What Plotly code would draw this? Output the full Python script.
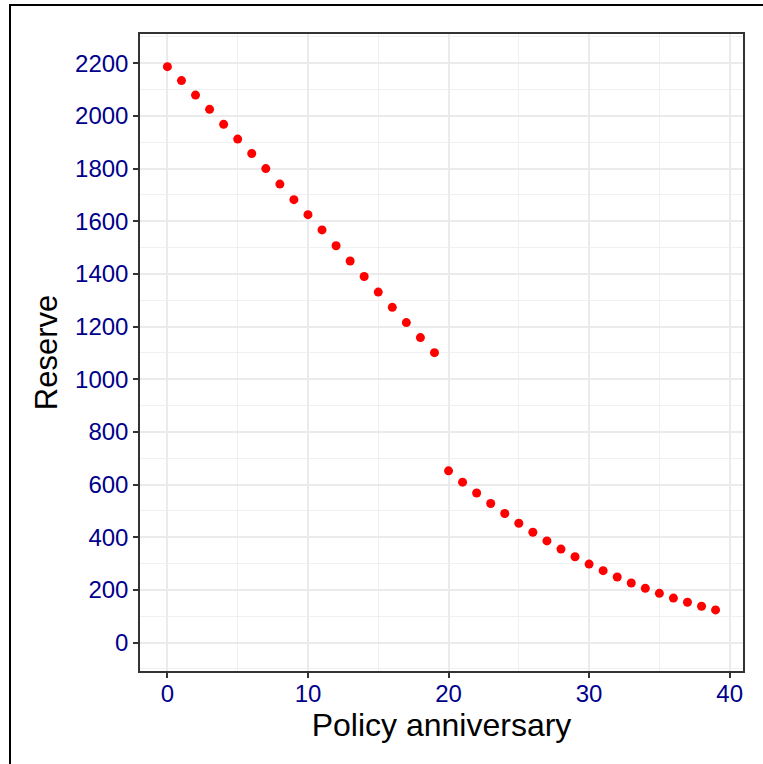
import plotly.graph_objects as go

anniversary = list(range(40))
reserve = [2187, 2134, 2079, 2025, 1968, 1912, 1857, 1800, 1741, 1682,
           1625, 1567, 1507, 1449, 1390, 1331, 1273, 1215, 1158, 1101,
           652, 609, 568, 528, 490, 453, 419, 386, 355, 326,
           298, 273, 249, 226, 206, 187, 169, 153, 138, 124]
x_ticks = [0, 10, 20, 30, 40]
y_ticks = list(range(0, 2201, 200))

W, H = 763, 764
L, R, T, B = 140, 20, 34, 93
pw, ph = W - L - R, H - T - B

fig = go.Figure()
fig.add_trace(go.Scatter(
    x=anniversary, y=reserve, mode="markers",
    marker=dict(color="red", size=9, line=dict(width=0)),
    showlegend=False,
))

font = "Liberation Sans, Arial, sans-serif"
axis_common = dict(
    showline=True, linecolor="#333333", linewidth=1.5, mirror=True,
    ticks="outside", ticklen=5, tickcolor="#333333", tickwidth=1.5,
    showgrid=True, gridcolor="#EBEBEB", gridwidth=1.6,
    zeroline=False,
    tickfont=dict(family=font, size=24, color="#00008B"),
)

fig.update_xaxes(
    range=[-1.95, 40.95], tickvals=x_ticks, ticklabelstandoff=-5,
    minor=dict(dtick=5, tick0=0, showgrid=True, gridcolor="#F0F0F0", gridwidth=0.9, ticks=""),
    title=dict(text="Policy anniversary", font=dict(family=font, size=32, color="black"), standoff=0),
    **axis_common,
)
fig.update_yaxes(
    range=[-108, 2311], tickvals=y_ticks,
    minor=dict(dtick=100, tick0=0, showgrid=True, gridcolor="#F0F0F0", gridwidth=0.9, ticks=""),
    title=dict(text="Reserve", font=dict(family=font, size=31, color="black"), standoff=8),
    **axis_common,
)

# outer frame of the figure
bottom_px = T + ph
fig.add_shape(type="rect", xref="paper", yref="paper",
              x0=(10 - L) / pw, x1=(W + 10 - L) / pw,
              y0=(bottom_px - (H + 10)) / ph, y1=(bottom_px - 5) / ph,
              line=dict(color="black", width=2), fillcolor="rgba(0,0,0,0)", layer="above")

fig.update_layout(
    width=W, height=H,
    margin=dict(l=L, r=R, t=T, b=B, autoexpand=False),
    paper_bgcolor="white", plot_bgcolor="white",
)

fig.write_html("out.html")
